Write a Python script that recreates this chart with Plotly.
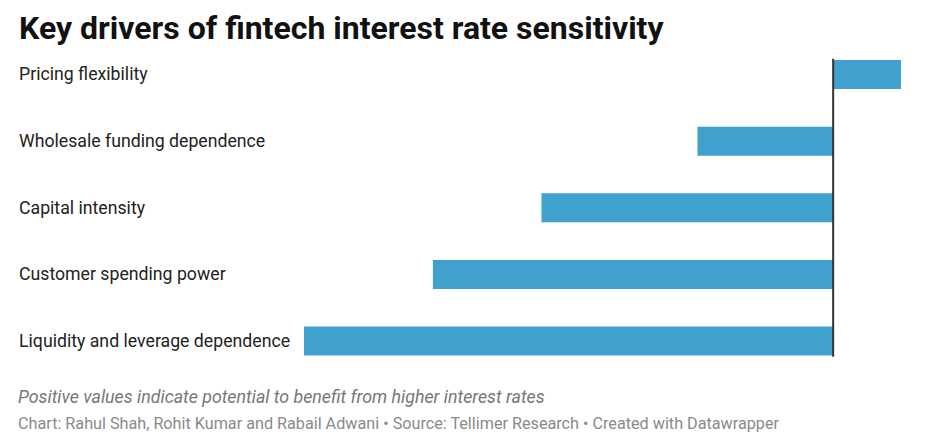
import plotly.graph_objects as go

categories = ["Pricing flexibility", "Wholesale funding dependence", "Capital intensity",
              "Customer spending power", "Liquidity and leverage dependence"]
values = [0.5, -1.0, -2.15, -2.95, -3.9]

W, H = 936, 444
OFF = 8  # page body margin offset compensation
BAR = "#40a1cf"

fig = go.Figure()
fig.add_trace(go.Bar(
    x=values, y=categories, orientation="h",
    marker=dict(color=BAR, line=dict(width=0)),
    hoverinfo="x+y", showlegend=False,
))

# plot area geometry (pixels in the target picture)
x0_px, x1_px = 304 - OFF, 901 - OFF
top_c, bot_c = 74.5 - OFF, 341.0 - OFF
step = (bot_c - top_c) / 4
y_top = top_c - step / 2
y_bot = bot_c + step / 2

fig.update_layout(
    width=W, height=H,
    margin=dict(l=0, r=0, t=0, b=0),
    paper_bgcolor="white", plot_bgcolor="white",
    bargap=1 - 29 / step,
    font=dict(family="Roboto", color="#222"),
    xaxis=dict(domain=[x0_px / W, x1_px / W], range=[min(values), max(values)],
               showgrid=False, zeroline=False, showticklabels=False, fixedrange=True),
    yaxis=dict(domain=[1 - y_bot / H, 1 - y_top / H], range=[4.5, -0.5],
               type="category", showgrid=False, zeroline=False,
               showticklabels=False, fixedrange=True),
)

half = 29 / step / 2
fig.add_shape(type="line", xref="x", yref="y", x0=0, x1=0, y0=-half - 0.02, y1=4 + half + 0.02,
              line=dict(color="#333333", width=2), layer="above")

for c in categories:
    fig.add_annotation(x=(17 - OFF) / W, xref="paper", y=c, yref="y", text=c, showarrow=False,
                       xanchor="left", yanchor="middle",
                       font=dict(family="Roboto", size=17.7, color="#222"))

fig.add_annotation(x=(17 - OFF) / W, xref="paper", y=1 - (28 - OFF) / H, yref="paper",
                   text="<b>Key drivers of fintech interest rate sensitivity</b>",
                   showarrow=False, xanchor="left", yanchor="middle",
                   font=dict(family="Roboto", size=32, color="#111"))
fig.add_annotation(x=(16 - OFF) / W, xref="paper", y=1 - (396 - OFF) / H, yref="paper",
                   text="<i>Positive values indicate potential to benefit from higher interest rates</i>",
                   showarrow=False, xanchor="left", yanchor="middle",
                   font=dict(family="Roboto", size=17.8, color="#777"))
fig.add_annotation(x=(16 - OFF) / W, xref="paper", y=1 - (423 - OFF) / H, yref="paper",
                   text="Chart: Rahul Shah, Rohit Kumar and Rabail Adwani • Source: Tellimer Research • Created with Datawrapper",
                   showarrow=False, xanchor="left", yanchor="middle",
                   font=dict(family="Roboto", size=16.2, color="#8a8a8a"))

fig.write_html("out.html", config={"displayModeBar": False})
